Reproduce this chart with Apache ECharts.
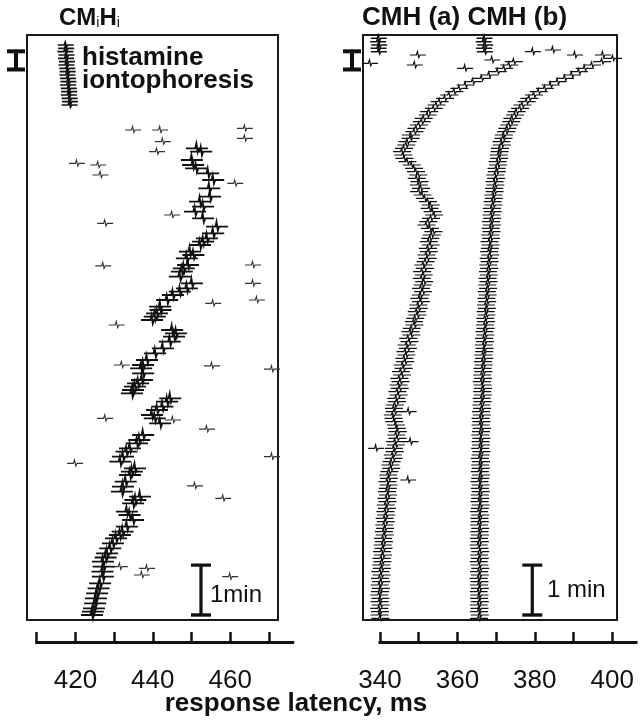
<!DOCTYPE html>
<html><head><meta charset="utf-8">
<script src="https://cdn.jsdelivr.net/npm/echarts@6/dist/echarts.min.js"></script>
<style>html,body{margin:0;padding:0;background:#fff}#c{width:640px;height:720px}</style>
</head><body><div id="c"></div>
<script>
// ---------------- DATA ----------------
// time in seconds from top of record (downwards), latency in ms
const sweepPeriod = 4; // s between consecutive electrical stimuli

// Left panel: CMiHi unit
const leftPreStart = 12;
const leftPreLatency = [417.5,417.6,417.4,417.7,417.6,417.8,417.7,417.9,418.0,417.9,418.1,418.2,418.1,418.3,418.4,418.3,418.5,418.6,418.5];
const leftMainTime = [136,140,150,156,160,166,174,184,194,200,206,212,220,230,238,244,248,252,260,264,268,276,280,284,290,298,304,308,312,318,326,330,334,338,342,354,358,362,368,376,382,390,396,400,406,414,418,422,426,430,436,440,446,450,456,460,466,480,486,490,496,500,506,512,520,524,528,536,542,548,554,558,562,572,576,582,590,596,600,604,610,616,622,627,632,638,644,650,658,664,670,676,682,688,692,696];
const leftMainLatency = [451.4,452.5,450.1,450.4,451.2,454.3,455.6,454.6,454.8,452.2,453.0,450.9,453.0,456.6,455.6,454.0,453.0,452.2,449.6,450.5,448.8,449.1,448.0,447.5,447.0,450.1,448.8,447.0,445.2,443.7,441.9,442.0,441.1,440.5,439.8,445.0,446.0,445.5,444.4,442.6,440.6,438.5,437.5,437.0,437.5,437.2,436.2,435.4,434.9,434.6,444.5,443.7,442.5,441.1,439.8,440.5,441.9,437.5,436.5,435.9,434.1,433.2,432.3,431.6,435.4,434.6,434.1,433.0,432.3,432.0,436.7,435.5,434.9,433.3,434.0,434.9,433.3,432.2,431.5,430.5,429.7,429.0,428.2,427.8,427.1,427.3,427.0,427.1,426.4,426.0,425.6,425.3,425.1,424.8,424.5,424.3];
const leftStrayTime = [114,114,128,140,112,124,154,156,168,178,216,226,277,276,298,318,322,348,396,397,401,460,473,462,514,506,541,556,638,640,648,650];
const leftStrayLatency = [434.9,441.9,442.6,441.1,463.8,463.8,420.4,425.9,426.5,461.3,445.0,427.7,427.2,465.9,465.9,466.9,455.6,430.7,432.0,455.3,470.8,427.7,454.0,445.2,419.9,470.8,450.9,458.2,431.5,438.5,437.2,460.0];

// Right panel: CMH (a) and CMH (b)
const cmhPreStart = 4;
const cmhAPreLatency = [339.7,339.5,339.8,339.6,339.7];
const cmhBPreLatency = [367.0,366.8,367.2,366.9,367.1];
const cmhAStart = 32;
const cmhALatency = [
374.6,373.4,372.1,370.4,368.2,366.3,364.0,362.1,360.5,359.2,
357.9,356.8,355.4,354.6,353.9,352.7,352.3,351.3,350.8,350.1,
349.4,348.9,348.0,347.9,347.1,346.8,346.2,345.7,346.0,346.3,
347.1,348.2,348.8,349.3,349.9,349.5,350.2,350.0,350.6,350.1,
351.0,351.6,352.4,353.1,352.8,353.6,354.0,353.2,352.5,352.0,
352.9,353.8,353.4,353.0,352.6,353.1,352.4,352.6,352.0,352.3,
351.8,351.2,351.6,350.9,351.3,350.8,351.4,351.0,350.6,351.1,
350.5,350.2,350.6,349.9,350.0,349.5,349.7,349.1,348.8,348.9,
348.2,347.9,348.1,347.3,347.6,346.9,347.2,346.6,346.8,346.3,
346.5,345.9,346.1,345.4,345.7,345.0,345.3,344.8,345.1,344.5,
344.8,344.2,344.4,343.9,343.6,343.8,343.3,343.5,343.7,344.1,
344.3,344.6,344.2,344.5,343.9,344.1,343.6,343.8,343.3,343.5,
343.0,342.7,342.9,342.4,342.1,342.3,341.9,342.2,342.0,341.8,
342.1,341.7,341.9,341.5,341.8,341.4,341.6,341.2,341.5,341.1,
341.3,341.0,341.2,340.8,341.0,340.7,340.9,340.5,340.8,340.4,
340.6,340.3,340.5,340.1,340.4,340.0,340.3,339.9,340.2,340.0,
339.8,340.1,339.9,340.2,339.8,340.0,339.9,340.1];
const cmhBStart = 28;
const cmhBLatency = [
400.2,397.4,394.8,392.9,391.4,389.6,387.8,385.9,384.1,382.6,
381.0,379.8,378.6,377.9,376.8,376.2,375.3,374.9,374.2,373.9,
373.4,372.9,372.6,372.0,371.9,371.4,371.5,371.0,370.9,370.7,
370.8,370.4,370.5,370.1,370.2,369.8,370.0,369.6,369.8,369.5,
369.6,369.3,369.4,369.1,369.3,368.9,369.1,368.8,369.0,368.7,
368.9,368.6,368.8,368.5,368.7,368.3,368.6,368.4,368.2,368.5,
368.1,368.3,368.0,368.2,367.9,368.1,367.8,368.0,367.7,367.9,
367.6,367.8,367.5,367.7,367.4,367.6,367.3,367.5,367.2,367.4,
367.1,367.3,367.0,367.2,366.9,367.1,366.8,367.0,366.9,366.7,
366.9,366.6,366.8,366.5,366.7,366.4,366.6,366.3,366.5,366.6,
366.4,366.6,366.3,366.5,366.2,366.4,366.1,366.3,366.0,366.2,
366.0,366.3,366.1,365.9,366.2,366.0,366.1,365.9,366.2,366.0,
365.8,366.1,365.9,366.0,365.8,366.1,365.9,365.7,366.0,365.8,
366.0,365.8,365.9,365.7,366.0,365.8,365.6,365.9,365.7,365.8,
365.6,365.9,365.7,365.8,365.6,365.8,365.5,365.7,365.9,365.6,
365.8,365.5,365.7,365.9,365.6,365.8,365.5,365.7,365.6,365.8,
365.5,365.7,365.6,365.8,365.5,365.7,365.6,365.8,365.6];
const rightStrayTime = [34,24,36,40,30,20,18,24,24,452,488,496,534];
const rightStrayLatency = [337.4,349.8,349.0,362.0,369.0,379.5,384.7,390.4,397.6,347.4,347.9,339.0,347.3];

// histamine iontophoresis period (s) and 1-min scale bars [latency, t0, t1]
const iontoPeriod = [19, 42];
const scaleBarLeft = [452.45, 636, 696];
const scaleBarRight = [379.35, 636, 696];

// axis ticks / labels
const leftTicks = [410,420,430,440,450,460,470];
const leftLabels = [420,440,460];
const rightTicks = [340,350,360,370,380,390,400];
const rightLabels = [340,360,380,400];

// ---------------- LAYOUT ----------------
const PX_PER_MS = 3.87;
const TOP = 35, H = 585, TMAX = 702;
const L_BOX = {left: 27, width: 251}, R_BOX = {left: 363, width: 254};
const lMin = 410 - (36.7 - L_BOX.left) / PX_PER_MS, lMax = lMin + L_BOX.width / PX_PER_MS;
const rMin = 340 - (380 - R_BOX.left) / PX_PER_MS, rMax = rMin + R_BOX.width / PX_PER_MS;
const FONT = '"Liberation Sans", Arial, Helvetica, sans-serif';
const INK = '#111';

function regular(start, arr) { return arr.map((v, i) => [v, start + i * sweepPeriod]); }
function pairs(times, lats) { return times.map((t, i) => [lats[i], t]); }

function waveMark(w, a, lw, color) {
  return function (params, api) {
    const p = api.coord([api.value(0), api.value(1)]);
    const x = p[0], y = p[1];
    return {
      type: 'polyline', silent: true,
      shape: { points: [[x - w, y], [x - 1.6, y], [x - 0.5, y - a], [x + 0.8, y + a * 0.75], [x + 2.0, y], [x + w, y]] },
      style: { stroke: color, lineWidth: lw, fill: null }
    };
  };
}
function iontoMarker(params, api) {
  const y0 = api.coord([api.value(0), api.value(1)])[1];
  const y1 = api.coord([api.value(0), api.value(2)])[1];
  const cx = params.coordSys.x - 11;
  return { type: 'group', silent: true, children: [
    { type: 'rect', shape: { x: cx - 2, y: y0, width: 4, height: y1 - y0 }, style: { fill: INK } },
    { type: 'rect', shape: { x: cx - 9, y: y0 - 1.5, width: 18, height: 4 }, style: { fill: INK } },
    { type: 'rect', shape: { x: cx - 9, y: y1 - 2.5, width: 18, height: 4 }, style: { fill: INK } }
  ]};
}
function scaleBar(params, api) {
  const p0 = api.coord([api.value(0), api.value(1)]);
  const p1 = api.coord([api.value(0), api.value(2)]);
  const cx = p0[0];
  return { type: 'group', silent: true, children: [
    { type: 'rect', shape: { x: cx - 1.6, y: p0[1], width: 3.2, height: p1[1] - p0[1] }, style: { fill: INK } },
    { type: 'rect', shape: { x: cx - 10, y: p0[1] - 1.5, width: 20, height: 3.2 }, style: { fill: INK } },
    { type: 'rect', shape: { x: cx - 10, y: p1[1] - 1.7, width: 20, height: 3.4 }, style: { fill: INK } }
  ]};
}

const chart = echarts.init(document.getElementById('c'), null, { renderer: 'canvas' });

const hiddenX = (gi, mn, mx) => ({ gridIndex: gi, type: 'value', min: mn, max: mx, show: false });
const hiddenY = (gi) => ({ gridIndex: gi, type: 'value', min: 0, max: TMAX, inverse: true, show: false });
const axisX = (gi, mn, mx, ticks, labels) => ({
  gridIndex: gi, type: 'value', min: mn, max: mx,
  axisLine: { show: true, onZero: false, lineStyle: { color: INK, width: 3, cap: 'square' } },
  axisTick: { show: true, inside: true, length: 10, customValues: ticks, lineStyle: { color: INK, width: 2.5 } },
  axisLabel: { show: true, customValues: labels, margin: 26, fontSize: 26, color: INK, fontFamily: FONT },
  splitLine: { show: false }
});

const option = {
  animation: false,
  backgroundColor: '#fff',
  grid: [
    { left: L_BOX.left, top: TOP, width: L_BOX.width, height: H, show: true, borderColor: '#1a1a1a', borderWidth: 2, backgroundColor: 'transparent' },
    { left: R_BOX.left, top: TOP, width: R_BOX.width, height: H, show: true, borderColor: '#1a1a1a', borderWidth: 2, backgroundColor: 'transparent' },
    { left: 36.7, top: 641, width: 256, height: 1 },
    { left: 380, top: 641, width: 256, height: 1 }
  ],
  xAxis: [
    hiddenX(0, lMin, lMax), hiddenX(1, rMin, rMax),
    axisX(2, 410, 410 + 256 / PX_PER_MS, leftTicks, leftLabels),
    axisX(3, 340, 340 + 256 / PX_PER_MS, rightTicks, rightLabels)
  ],
  yAxis: [hiddenY(0), hiddenY(1),
    { gridIndex: 2, min: 0, max: 1, show: false }, { gridIndex: 3, min: 0, max: 1, show: false }],
  series: [
    { type: 'custom', xAxisIndex: 0, yAxisIndex: 0, data: regular(leftPreStart, leftPreLatency), renderItem: waveMark(8, 3, 1.6, INK) },
    { type: 'custom', xAxisIndex: 0, yAxisIndex: 0, data: pairs(leftStrayTime, leftStrayLatency), renderItem: waveMark(8, 3.5, 1.1, '#333') },
    { type: 'custom', xAxisIndex: 0, yAxisIndex: 0, data: pairs(leftMainTime, leftMainLatency), renderItem: waveMark(11, 4.8, 1.9, INK) },
    { type: 'custom', xAxisIndex: 1, yAxisIndex: 1, data: regular(cmhPreStart, cmhAPreLatency), renderItem: waveMark(8, 3, 1.5, INK) },
    { type: 'custom', xAxisIndex: 1, yAxisIndex: 1, data: regular(cmhPreStart, cmhBPreLatency), renderItem: waveMark(8, 3, 1.5, INK) },
    { type: 'custom', xAxisIndex: 1, yAxisIndex: 1, data: pairs(rightStrayTime, rightStrayLatency), renderItem: waveMark(8, 3.5, 1.2, INK) },
    { type: 'custom', xAxisIndex: 1, yAxisIndex: 1, data: regular(cmhAStart, cmhALatency), renderItem: waveMark(9, 3, 1.2, INK) },
    { type: 'custom', xAxisIndex: 1, yAxisIndex: 1, data: regular(cmhBStart, cmhBLatency), renderItem: waveMark(9, 3, 1.2, INK) },
    { type: 'custom', xAxisIndex: 0, yAxisIndex: 0, clip: false, encode: { x: 0, y: [1, 2] }, data: [[lMin, iontoPeriod[0], iontoPeriod[1]]], renderItem: iontoMarker },
    { type: 'custom', xAxisIndex: 1, yAxisIndex: 1, clip: false, encode: { x: 0, y: [1, 2] }, data: [[rMin, iontoPeriod[0], iontoPeriod[1]]], renderItem: iontoMarker },
    { type: 'custom', xAxisIndex: 0, yAxisIndex: 0, encode: { x: 0, y: [1, 2] }, data: [scaleBarLeft], renderItem: scaleBar },
    { type: 'custom', xAxisIndex: 1, yAxisIndex: 1, encode: { x: 0, y: [1, 2] }, data: [scaleBarRight], renderItem: scaleBar }
  ],
  graphic: [
    { type: 'text', x: 59, y: 18, style: { text: 'CM{s|i}H{s|i}', font: 'bold 24px ' + FONT, fill: INK, textVerticalAlign: 'middle', verticalAlign: 'middle',
        rich: { s: { fontSize: 14, fontWeight: 'normal', fontFamily: FONT, fill: INK, padding: [10, 0, 0, 0] } } } },
    { type: 'text', x: 362, y: 18, style: { text: 'CMH (a) CMH (b)', font: 'bold 26px ' + FONT, fill: INK, textVerticalAlign: 'middle', verticalAlign: 'middle' } },
    { type: 'text', x: 82, y: 58, style: { text: 'histamine', font: 'bold 26px ' + FONT, fill: INK, textVerticalAlign: 'middle', verticalAlign: 'middle' } },
    { type: 'text', x: 82, y: 81, style: { text: 'iontophoresis', font: 'bold 26px ' + FONT, fill: INK, textVerticalAlign: 'middle', verticalAlign: 'middle' } },
    { type: 'text', x: 210, y: 595, style: { text: '1min', font: '24px ' + FONT, fill: INK, textVerticalAlign: 'middle', verticalAlign: 'middle' } },
    { type: 'text', x: 547, y: 590, style: { text: '1 min', font: '24px ' + FONT, fill: INK, textVerticalAlign: 'middle', verticalAlign: 'middle' } },
    { type: 'text', x: 296, y: 704, style: { text: 'response latency, ms', font: 'bold 26px ' + FONT, fill: INK, textAlign: 'center', align: 'center', textVerticalAlign: 'middle', verticalAlign: 'middle' } }
  ]
};
chart.setOption(option);
</script>
</body></html>
